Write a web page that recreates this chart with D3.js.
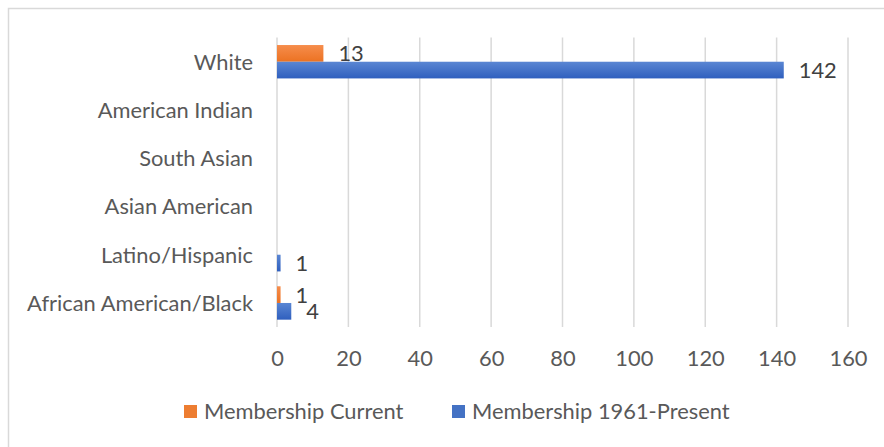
<!DOCTYPE html>
<html>
<head>
<meta charset="utf-8">
<script src="https://cdn.jsdelivr.net/npm/d3@7"></script>
<style>
  html, body { margin: 0; padding: 0; background: #fff; }
  svg { display: block; }
</style>
</head>
<body>
<svg id="chart" width="884" height="447"></svg>
<script>
const categories = ["White", "American Indian", "South Asian", "Asian American", "Latino/Hispanic", "African American/Black"];
const seriesNames = ["Membership Current", "Membership 1961-Present"];
const membershipCurrent = [13, null, null, null, null, 1];
const membership1961Present = [142, null, null, null, 1, 4];
const tickValues = [0, 20, 40, 60, 80, 100, 120, 140, 160];

const FONT = "Lato, 'Open Sans', sans-serif";
const svg = d3.select("#chart");

// fit font size to the reference label width
const probe = svg.append("text").attr("font-family", FONT).attr("font-size", 100).text("African American/Black");
const fs = 100 * 226 / probe.node().getComputedTextLength();
probe.remove();

const W = 884, H = 447;
const plot = { left: 277, right: 848, top: 37.6, bottom: 327.1 };

// border
svg.append("rect").attr("x", 8.5).attr("y", 8.5).attr("width", W + 20).attr("height", H + 20)
  .attr("fill", "none").attr("stroke", "#d9d9d9").attr("stroke-width", 1.5);

const defs = svg.append("defs");
const grads = [["gOrange", "#f68d4c", "#ec7222"], ["gBlue", "#5a86d3", "#2f5fbe"]];
grads.forEach(([id, c1, c2]) => {
  const g = defs.append("linearGradient").attr("id", id).attr("x1", 0).attr("y1", 0).attr("x2", 0).attr("y2", 1);
  g.append("stop").attr("offset", "0%").attr("stop-color", c1);
  g.append("stop").attr("offset", "100%").attr("stop-color", c2);
});
const fills = ["url(#gOrange)", "url(#gBlue)"];
const legendColors = ["#ed7d31", "#4472c4"];

const x = d3.scaleLinear().domain([0, 160]).range([plot.left, plot.right]);
const y0 = d3.scaleBand().domain(categories).range([plot.top, plot.bottom]).padding(0);
const y1 = d3.scaleBand().domain(seriesNames).range([0, y0.bandwidth()]).paddingInner(0).paddingOuter(0.445);

// gridlines
svg.append("g").selectAll("line").data(tickValues).join("line")
  .attr("x1", d => x(d)).attr("x2", d => x(d))
  .attr("y1", plot.top).attr("y2", plot.bottom)
  .attr("stroke", "#d9d9d9").attr("stroke-width", 1.5);

// x axis tick labels
const xAxis = d3.axisBottom(x).tickValues(tickValues).tickSize(0).tickPadding(0).tickFormat(d3.format("d"));
const xg = svg.append("g").attr("transform", `translate(0,${357.7 + 0.36 * fs})`).call(xAxis);
xg.select(".domain").remove();
xg.selectAll("text").attr("dy", 0).attr("font-family", FONT).attr("font-size", fs).attr("fill", "#595959");

// y axis category labels
const yAxis = d3.axisLeft(y0).tickSize(0).tickPadding(24);
const yg = svg.append("g").attr("transform", `translate(${plot.left},0)`).call(yAxis);
yg.select(".domain").remove();
yg.selectAll("text").attr("dy", 0.36 * fs).attr("font-family", FONT).attr("font-size", fs).attr("fill", "#595959");

// bars
const seriesData = [membershipCurrent, membership1961Present];
const rows = [];
seriesData.forEach((vals, si) => {
  vals.forEach((v, ci) => {
    if (v !== null && v !== undefined) rows.push({ cat: categories[ci], s: seriesNames[si], si, v });
  });
});

svg.append("g").selectAll("rect").data(rows).join("rect")
  .attr("x", x(0))
  .attr("y", d => y0(d.cat) + y1(d.s))
  .attr("width", d => x(d.v) - x(0))
  .attr("height", y1.bandwidth())
  .attr("fill", d => fills[d.si]);

// value labels
svg.append("g").selectAll("text").data(rows).join("text")
  .attr("x", d => x(d.v) + 15)
  .attr("y", d => y0(d.cat) + y1(d.s) + y1.bandwidth() / 2 + 0.36 * fs)
  .attr("font-family", FONT).attr("font-size", fs).attr("fill", "#404040")
  .text(d => d.v);

// legend
const legendX = [184, 452];
const lg = svg.append("g");
seriesNames.forEach((name, i) => {
  lg.append("rect").attr("x", legendX[i]).attr("y", 405).attr("width", 13).attr("height", 13).attr("fill", legendColors[i]);
  lg.append("text").attr("x", legendX[i] + 20).attr("y", 411.5 + 0.36 * fs)
    .attr("font-family", FONT).attr("font-size", fs).attr("fill", "#595959").text(name);
});
</script>
</body>
</html>
